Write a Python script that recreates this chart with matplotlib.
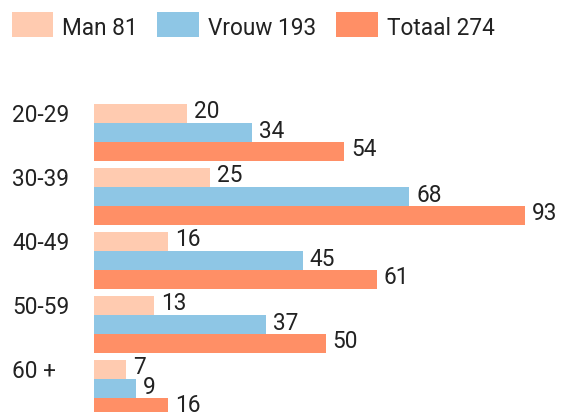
import matplotlib
matplotlib.use("Agg")
import matplotlib.pyplot as plt
from matplotlib.patches import Rectangle
from matplotlib.transforms import blended_transform_factory
import numpy as np

plt.rcParams['font.family'] = ['Roboto', 'DejaVu Sans']

categories = ["20-29", "30-39", "40-49", "50-59", "60 +"]
man = [20, 25, 16, 13, 7]
vrouw = [34, 68, 45, 37, 9]
totaal = [54, 93, 61, 50, 16]
series_names = ["Man 81", "Vrouw 193", "Totaal 274"]
colors = ["#FFCBB0", "#8EC6E5", "#FF8F66"]
text_color = "#222222"

W, H = 565, 412
fig = plt.figure(figsize=(W / 100, H / 100), dpi=100)

# axes placement (pixel-based)
left_px = 94
px_per_unit = 4.636
xmax = 100
pitch = 64.0
group0_center_px = 132.5
top_px = group0_center_px - 0.5 * pitch
bottom_px = H
ylim_bottom = (bottom_px - group0_center_px) / pitch
ax = fig.add_axes([left_px / W, 0, xmax * px_per_unit / W, (bottom_px - top_px) / H])
ax.set_xlim(0, xmax)
ax.set_ylim(ylim_bottom, -0.5)
ax.axis("off")

bh = 19 / pitch
y = np.arange(len(categories))
fs = 16.3
for k, (vals, c) in enumerate(zip([man, vrouw, totaal], colors)):
    pos = y + (k - 1) * bh
    ax.barh(pos, vals, height=bh, color=c, linewidth=0)
    for p, v in zip(pos, vals):
        ax.annotate(str(v), (v, p), xytext=(7, -5), textcoords="offset pixels",
                    ha="left", va="baseline", fontsize=fs, color=text_color,
                    annotation_clip=False)

trans = blended_transform_factory(fig.transFigure, ax.transData)
for yi, cat in zip(y, categories):
    ax.text(12 / W, yi - bh + 8.5 / pitch, cat, transform=trans, ha="left", va="baseline",
            fontsize=fs, color=text_color)

# legend drawn in figure pixel coordinates
sq_x = [12, 157, 336]
sq_w = [41, 42, 42]
txt_x = [62, 208, 387]
for sx, sw, tx, c, name in zip(sq_x, sq_w, txt_x, colors, series_names):
    fig.patches.append(Rectangle((sx / W, 1 - 37 / H), sw / W, 25 / H,
                                 transform=fig.transFigure, facecolor=c,
                                 edgecolor="none"))
    fig.text(tx / W, 1 - 35 / H, name, ha="left", va="baseline",
             fontsize=fs, color=text_color)

fig.savefig("out.png", dpi=100)
